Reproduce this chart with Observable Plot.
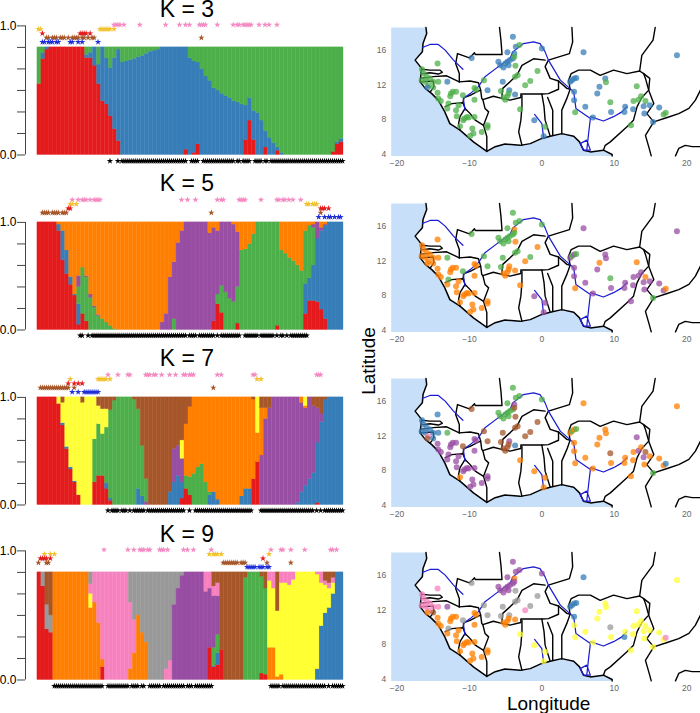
<!DOCTYPE html>
<html><head><meta charset="utf-8">
<script src="https://cdn.jsdelivr.net/npm/d3@7"></script>
<script src="https://cdn.jsdelivr.net/npm/@observablehq/plot@0.6"></script>
<style>
html,body{margin:0;padding:0;background:#fff}
#page{position:relative;width:700px;height:713px;overflow:hidden;font-family:"Liberation Sans",sans-serif}
#page>div,#page>svg{position:absolute}
.t{color:#000;font-size:23px;line-height:17px;white-space:nowrap;transform:translate(-50%,-50%)}
.lab{color:#000;font-size:19px;line-height:19px;white-space:nowrap}
</style></head><body><div id="page"></div>
<script>
const RED="#e41a1c",BLUE="#377eb8",GREEN="#4daf4a",PURPLE="#984ea3",ORANGE="#ff7f00",YELLOW="#ffff33",BROWN="#a65628",PINK="#f781bf",GRAY="#999999";
const clusterColors={r:RED,b:BLUE,g:GREEN,p:PURPLE,o:ORANGE,y:YELLOW,n:BROWN,k:PINK,a:GRAY};

// Admixture: cumulative top (percent) of each stacked layer for 77 columns
const k3Red=[66,89,98,100,100,100,100,100,100,100, 100,100,90,90,83,66,50,47,36,24, 13,0,0,0,0,0,0,0,0,0, 0,0,0,0,0,0,0,5,0,2, 10,0,0,0,0,0,0,0,0,0, 0,0,14,32,14,0,0,7,0,0, 4,0,0,0,0,0,0,0,0,0, 0,0,0,0,3,10,12];
const k3Blue=[66,95,100,100,100,100,100,100,100,100, 100,100,93,95,100,84,100,90,81,90, 98,86,87,88,89,91,92,94,96,97, 98,100,100,100,100,100,100,100,90,87, 86,80,73,69,62,60,57,55,53,50, 49,47,46,53,41,39,32,22,16,11, 7,2,0,0,0,0,0,0,0,0, 0,0,0,0,3,12,15];

const k5Red=[100,100,100,100,100,92,65,52,42,32, 5,15,8,0,0,0,0,0,0,0, 0,0,0,0,0,0,0,0,0,0, 0,0,0,0,0,0,0,0,0,0, 0,0,0,0,8,24,16,0,0,0, 6,0,0,0,0,0,0,0,0,0, 4,0,0,0,0,0,0,15,27,27, 26,19,10,0,0,0,0];
const k5Blue=[100,100,100,100,100,98,92,74,49,33, 24,15,8,0,0,0,0,0,0,0, 0,0,0,0,0,0,0,0,0,0, 0,0,0,0,0,0,0,0,0,0, 0,0,0,0,8,24,16,0,0,0, 6,0,0,0,0,0,0,0,0,0, 4,0,0,0,0,0,0,43,48,60, 85,92,97,100,100,100,100];
const k5Green=[100,100,100,100,100,98,92,74,49,33, 40,58,49,30,21,13,10,7,4,1, 0,0,0,0,0,0,0,0,0,0, 0,0,0,0,10,0,0,0,0,0, 0,0,0,0,8,33,41,35,29,26, 40,74,75,80,89,100,100,100,100,100, 100,74,71,67,64,60,55,92,97,95, 85,92,97,100,100,100,100];
const k5Purple=[100,100,100,100,100,98,92,74,49,33, 50,58,50,33,22,14,10,7,4,1, 0,0,0,0,0,0,0,0,0,0, 0,7,15,49,63,81,92,100,100,100, 100,100,100,90,95,92,100,100,100,98, 91,74,75,80,89,100,100,100,100,100, 100,74,71,67,64,60,55,92,97,98, 100,95,98,100,100,100,100];

const k7Red=[100,100,100,100,100,94,74,52,33,21, 9,0,0,0,21,27,27,15,4,0, 0,0,0,0,0,0,0,0,0,0, 0,0,0,0,0,0,6,15,9,0, 0,0,0,0,0,0,0,0,0,0, 0,0,0,0,24,40,0,0,0,0, 0,0,0,0,0,0,0,0,0,0, 2,0,0,0,0,0,0];
const k7Blue=[100,100,100,100,100,94,76,54,35,22, 9,0,0,0,21,27,27,20,6,0, 0,0,0,0,0,15,8,0,0,0, 0,0,0,12,21,27,21,15,9,0, 0,0,0,9,12,5,0,0,0,0, 0,8,15,15,24,40,0,0,0,0, 0,0,0,0,0,2,12,18,24,30, 58,77,98,100,100,100,100];
const k7Purple=[100,100,100,100,100,94,76,54,35,22, 9,0,0,0,21,27,27,20,6,0, 0,0,0,0,0,15,8,3,0,0, 0,0,0,12,52,55,43,15,9,0, 0,0,0,9,12,5,0,0,0,0, 0,8,15,15,24,40,46,80,90,100, 100,100,100,100,100,100,95,90,100,92, 90,85,98,100,100,100,100];
const k7Green=[100,100,100,100,100,94,76,54,35,22, 9,0,0,0,61,75,66,72,88,97, 100,100,100,100,98,89,55,24,0,0, 0,0,0,12,52,55,43,27,26,29, 35,38,21,12,12,5,0,0,0,0, 0,8,15,15,24,40,46,80,90,100, 100,100,100,100,100,100,95,90,100,92, 90,85,98,100,100,100,100];
const k7Orange=[100,100,100,100,100,94,76,54,35,22, 9,0,0,0,61,75,66,72,88,97, 100,100,100,100,98,89,55,24,0,0, 0,0,0,12,52,55,43,75,91,100, 100,100,100,100,100,100,100,100,100,100, 100,100,100,100,98,67,90,90,90,100, 100,100,100,100,100,100,100,92,100,92, 90,85,98,100,100,100,100];
const k7Yellow=[100,100,100,100,100,100,95,100,100,100, 100,95,100,100,100,92,89,89,88,97, 100,100,100,100,98,89,55,24,0,0, 0,0,0,12,52,55,60,75,91,100, 100,100,100,100,100,100,100,100,100,100, 100,100,100,100,98,100,90,90,90,100, 100,100,100,100,100,100,100,100,100,92, 90,85,98,100,100,100,100];

const k9Red=[100,87,47,44,0,0,0,0,0,0, 0,0,0,0,0,0,12,0,0,0, 0,0,0,0,0,0,0,0,0,0, 0,0,0,0,0,0,0,0,0,0, 0,0,0,30,12,14,28,0,0,0, 0,0,0,0,0,0,6,5,0,0, 0,0,0,0,0,0,0,0,0,0, 0,0,0,0,0,0,0];
const k9Blue=[100,87,47,44,0,0,0,0,0,0, 0,0,0,0,0,0,12,0,0,0, 0,0,0,0,0,0,0,0,0,0, 0,0,0,0,0,0,0,0,0,0, 0,0,0,30,13,25,28,0,0,0, 0,0,0,0,0,0,6,5,0,0, 0,0,0,0,0,0,0,0,0,0, 10,50,62,67,80,100,100];
const k9Green=[100,87,47,44,0,0,0,0,0,0, 0,0,0,0,0,0,12,0,0,0, 0,0,0,0,0,0,0,0,0,0, 0,0,0,0,0,0,0,0,0,0, 0,0,0,30,30,42,28,0,0,0, 0,0,95,100,100,100,96,85,0,0, 0,0,0,0,0,0,0,0,0,0, 10,50,62,67,80,100,100];
const k9Orange=[100,87,47,44,100,100,100,100,100,100, 100,100,100,67,72,53,19,0,0,0, 0,0,0,10,25,60,44,35,0,0, 0,0,0,0,0,0,0,0,0,0, 0,0,0,30,30,42,28,0,0,0, 0,0,95,100,100,100,96,85,30,30, 3,5,0,0,0,0,0,0,0,0, 10,50,62,67,80,100,100];
const k9Purple=[100,87,47,44,100,100,100,100,100,100, 100,100,100,67,72,53,19,0,0,0, 0,0,0,10,25,60,44,35,0,0, 0,0,0,0,70,85,97,100,100,100, 100,100,82,85,78,78,28,0,0,0, 0,0,95,100,100,100,96,85,30,30, 3,5,0,0,0,0,0,0,0,0, 10,50,62,67,80,100,100];
const k9Yellow=[100,87,47,44,100,100,100,100,100,100, 100,100,100,80,72,53,19,0,0,0, 0,0,0,10,25,60,44,35,0,0, 0,0,0,0,70,85,97,100,100,100, 100,100,82,85,78,78,28,0,0,0, 0,0,95,100,100,100,96,85,92,85, 64,90,90,88,93,100,100,100,100,100, 98,90,88,85,90,100,100];
const k9Pink=[100,87,47,44,100,100,100,100,100,100, 100,100,100,89,100,100,100,100,100,100, 100,100,100,72,56,60,44,35,0,0, 0,0,10,18,70,85,97,100,100,100, 100,100,100,100,87,90,28,0,0,0, 0,0,95,100,100,100,96,85,100,100, 64,100,100,100,100,100,100,100,100,100, 100,100,92,90,95,100,100];
const k9Gray=[100,100,70,60,100,100,100,100,100,100, 100,100,100,100,100,100,100,100,100,100, 100,100,100,100,100,100,100,100,100,100, 100,100,100,100,100,100,100,100,100,100, 100,100,100,100,87,90,28,0,0,0, 0,0,95,100,100,100,96,85,100,100, 64,100,100,100,100,100,100,100,100,100, 100,100,92,90,95,100,100];

// Star rows: individual positions per row
const k3Stars={
 pink:[38,39,40,41,43,51,64,71,74,76,81,82,83,84,90,98,100,101,103,104,105,106,107,111,114,116,120],
 yellow:[0,1,31,32,33,34,35,36,38],
 red:[2,21,22,23,24,26],
 brown:[4,5,7,8,9,11,12,13,15,17,18,19,20,22,23,25,27,28,82],
 blue:[2,3,5,6,7,9,10,16,17,20,22,30],
 black:[36,40,42,43,44,45,46,47,48,49,50,51,52,53,54,55,56,57,58,59,60,61,62,63,64,65,66,67,68,69,70,71,72,73,74,77,78,79,80,83,84,85,86,87,88,89,90,91,92,93,94,95,96,97,98,100,101,103,104,105,106,109,110,111,112,114,115,117,118,119,120,121,122,123,124,125,126,127,128,129,130,131,132,133,134,135,136,137,138,139,140,141,142,143,144,145,146,147,148,149,150,151,152,153]};
const k5Stars={
 pink:[17,20,22,23,24,26,28,29,30,31,72,75,79,90,92,93,101,102,103,104,112,120,121,123,124,126,128,132],
 yellow:[16,17,19,135,136,138,139,140],
 red:[15,16,142,143,144,146],
 brown:[2,3,4,5,7,8,9,10,12,13,14,87,142],
 blue:[141,144,146,147,149,151,152],
 black:[21,22,25,27,28,29,30,31,32,33,34,35,36,37,38,39,40,41,42,43,44,45,46,47,48,49,50,51,52,53,54,55,56,57,58,59,60,61,62,63,64,65,66,67,68,69,70,71,72,73,74,76,77,78,79,81,82,83,84,85,86,87,88,90,92,93,94,95,96,97,98,99,100,101,104,105,106,107,108,109,110,112,113,114,115,116,117,118,120,122,123,125,127,128,129,130,131,132,133,134,135]};
const k7Stars={
 pink:[35,40,45,46,54,55,56,58,59,62,66,69,73,74,76,77,78,90,92,108,109,140,141,142],
 yellow:[16,30,31,32,33,34,36,110,112],
 red:[15,18,20,22],
 brown:[1,2,3,4,5,6,7,8,9,10,11,12,13,14,15,18,88],
 blue:[17,20,23,24,25,26,27,28,29,30],
 black:[35,37,38,39,40,42,43,44,46,48,49,50,51,52,53,55,56,57,58,59,60,61,62,63,64,65,66,67,68,69,70,71,72,73,76,79,80,81,82,83,84,85,86,87,88,89,90,91,92,93,94,95,96,97,98,99,100,101,102,103,104,105,106,107,112,113,114,115,116,117,118,119,120,121,122,123,124,125,126,127,128,129,130,131,132,133,134,135,136,137,138,140,142,144,145,146,147,148,149,150,151,152,153]};
const k9Stars={
 pink:[33,45,48,51,52,53,55,56,61,62,63,65,73,75,78,87,117,122,123,127,134,147,148,150],
 yellow:[3,6,8,86,88,89,90,92,116],
 red:[1,2,3,4,6,113],
 brown:[0,4,5,93,94,95,96,97,98,99,100,102,103,104,115,127],
 blue:[105,106,107,108,109,111,112,113,115,116],
 black:[8,9,10,11,12,13,14,15,16,17,18,19,20,21,22,23,24,25,26,27,28,29,30,31,32,35,36,37,38,39,40,41,42,43,44,45,47,48,49,50,52,53,56,57,58,59,60,61,63,64,65,66,67,68,69,70,71,72,73,75,76,77,79,80,81,82,83,84,85,86,87,117,118,119,120,121,123,124,125,126,127,128,129,130,131,132,133,134,135,136,137,138,139,140,141,142,143,144,146,148,149,150,151,152,153]};

const page=document.getElementById("page");
const PXPER=1.076, Y_TOP=125, Y_BOT=-10;

function barPanel(y0px, layers, stars, rowLevels, starBelow, ticks, topTick){
  const rows=[];
  for(let i=0;i<77;i++){
    let prev=0;
    for(const [tops,fill] of layers){
      const t=tops?tops[i]:100;
      if(t>prev){rows.push({x1:2*i,x2:2*i+2,y1:prev,y2:t,fill});prev=t;}
    }
  }
  const starMark=(xs,level,fill)=>Plot.dot(xs,{x:d=>d+0.5,y:()=>level,symbol:"star",r:2,fill,stroke:"none"});
  const h=(Y_TOP-Y_BOT)*PXPER;
  const svg=Plot.plot({
    width:350,height:h,marginLeft:25,marginRight:7,marginTop:0,marginBottom:0,
    x:{domain:[-6,154],axis:null},
    y:{domain:[Y_BOT,Y_TOP]},
    color:{type:"identity"},
    style:{background:"transparent",fontFamily:"'Liberation Sans',sans-serif",overflow:"visible"},
    marks:[
      Plot.rect(rows,{x1:"x1",x2:"x2",y1:"y1",y2:"y2",fill:"fill",stroke:"fill",strokeWidth:0.35}),
      Plot.ruleX([-6],{y1:0,y2:topTick,stroke:"#444"}),
      Plot.axisY(ticks,{anchor:"left",tickSize:8,tickPadding:1,label:null,stroke:"#444",color:"#000",fontSize:12,
        tickFormat:d=>d===0?"0.0":d===topTick?"1.0":""}),
      starMark(stars.pink,rowLevels.pink,"#f48cc4"),
      starMark(stars.yellow,rowLevels.yellow,"#f2c230"),
      starMark(stars.red,rowLevels.red,RED),
      starMark(stars.brown,rowLevels.brown,BROWN),
      starMark(stars.blue,rowLevels.blue,"#1f2fd8"),
      starMark(stars.black,starBelow,"#000")
    ]
  });
  svg.style.left="0px";
  svg.style.top=(y0px-Y_TOP*PXPER)+"px";
  page.appendChild(svg);
}

const ticks7=[0,20,40,60,80,100,120], ticks6=[0,20,40,60,80,100];
const rowsA={pink:121,yellow:117,red:113,brown:109,blue:105};
barPanel(154,[[k3Red,RED],[k3Blue,BLUE],[null,GREEN]],k3Stars,rowsA,-5.6,ticks7,120);
barPanel(329.3,[[k5Red,RED],[k5Blue,BLUE],[k5Green,GREEN],[k5Purple,PURPLE],[null,ORANGE]],k5Stars,rowsA,-5.2,ticks6,100);
barPanel(504.3,[[k7Red,RED],[k7Blue,BLUE],[k7Purple,PURPLE],[k7Green,GREEN],[k7Orange,ORANGE],[k7Yellow,YELLOW],[null,BROWN]],k7Stars,rowsA,-5.2,ticks6,100);
barPanel(679,[[k9Red,RED],[k9Blue,BLUE],[k9Green,GREEN],[k9Orange,ORANGE],[k9Purple,PURPLE],[k9Yellow,YELLOW],[k9Pink,PINK],[k9Gray,GRAY],[null,BROWN]],k9Stars,rowsA,-5.6,ticks7,120);

// Map geometry (longitude, latitude)
const coast=[[-16,18.6],[-15.9,17.9],[-16.4,16.8],[-16.5,15.8],[-17.5,14.85],[-16.6,13.9],[-16.8,12.35],[-16.1,11.6],[-15.2,11],[-14.3,10.25],[-13.4,8.9],[-12.7,7.55],[-11.3,6.8],[-9.45,5.45],[-7.6,4.35],[-6.45,4.9],[-5.1,5.2],[-3,5.05],[-1.6,5.25],[0,5.85],[1.15,6.1],[2.75,6.4],[4.4,6.1],[5.2,5.45],[5.75,4.5],[6.7,4.3],[8.5,4.5],[9.7,4],[9.7,3.84]];
const oceanCorners=[[-20.8,3.84],[-20.8,18.6]];
const borders=[
 [[-5.85,18.6],[-5.65,17.15],[-5.5,15.5],[-9.2,15.5],[-9.3,15.7],[-10,15.1],[-11.65,15.6],[-11.9,14.45],[-11.4,13.3],[-11.4,12.35]],
 [[-16.6,13.8],[-15.45,13.7],[-14.05,13.7],[-13.75,13.45],[-14.3,13.25],[-15.45,13.4],[-16.45,13.3]],
 [[-16.75,12.75],[-15,12.95],[-13.15,13.05],[-11.4,12.35]],
 [[-16.8,12.35],[-15,12.45],[-14.9,11.8],[-15.4,11.2]],
 [[-11.4,12.35],[-9.9,12.45],[-8.75,12.25],[-8.45,11.4],[-8.3,10.45],[-8.15,10.3],[-6.7,10.7],[-5.55,10.45],[-5.4,11.6],[-4.4,12.35],[-3.45,13.1],[-2.75,14.25],[-1.15,15],[0.45,14.85]],
 [[4.15,18.6],[4.25,16.95],[3.8,15.6],[0.9,14.85],[0.45,14.1],[1.15,12.75],[2.3,12.45],[2.3,11.5],[0.9,11],[0,10.95],[-2.9,10.95],[-2.9,10.55],[-4.4,10.25],[-5.55,10.45]],
 [[-2.75,10.8],[-2.75,9.5],[-2.9,7.95],[-3.2,6.6],[-2.75,5.05]],
 [[0,10.95],[0.3,9.5],[0.45,7.95],[1.15,6.1]],
 [[0.8,10.55],[1.5,9.1],[1.5,6.2]],
 [[2.3,12.45],[3.45,11.6],[3.9,11.5],[3.45,10.45],[2.75,9.1],[2.75,6.35]],
 [[3.9,11.5],[3.7,12.55],[4.05,13.3],[5.05,13.7],[6.7,13.7],[8.05,13.1],[9.9,13.7],[11.75,13.3],[13.5,13.6],[14.05,13.3],[14.3,12.75],[14.75,11.4],[13.8,10.55],[13.15,9.5],[12.65,7.95],[11.75,7.2],[9.45,5.45],[8.75,5.05],[8.5,4.5]],
 [[15.65,18.6],[15.35,17.15],[13.8,15.4],[13.5,13.6]],
 [[14.05,13.3],[14.9,12.75],[14.75,11.4],[15.45,9.85],[14.5,8.7],[15.45,7.75],[14.3,6.2],[14.75,4.9],[15.1,3.84]],
 [[15.45,7.75],[17.3,8.25],[18.9,8.7],[20.3,9.3],[21.2,10.25],[21.9,11.4]],
 [[18.45,3.84],[18.9,4.7],[19.8,5.05],[20.75,4.9],[21.9,4.9]],
 [[-13.35,9.5],[-12.45,9.85],[-10.9,9.95],[-10.6,9.3],[-11.3,8.35],[-11.5,7.55],[-11.3,6.8]],
 [[-10.6,9.3],[-9.9,8.7],[-9.2,7.95],[-8.05,7.35]],
 [[-8.15,10.3],[-7.85,9.3],[-7.35,8.9],[-8.05,7.35],[-7.6,6.05],[-7.6,4.35]],
 [[-10.9,9.95],[-10.75,10.55],[-9.9,10.8],[-9,11.2],[-8.45,11.4]]
];
const rivers=[
 [[-16.5,16.3],[-15.45,16.65],[-14.3,16.65],[-13.35,16],[-12.2,14.85],[-10.9,13.8]],
 [[-10.6,9.1],[-10.85,10.45],[-9.9,11],[-8.75,11.8],[-7.85,12.95],[-6,14.1],[-4.4,15.05],[-4,15.8],[-2.55,16.75],[-1.15,16.95],[-0.25,16.75],[0.45,15.8],[0.9,14.85],[2.55,12.55],[4.4,11.2],[4.7,9.3],[6.7,8.15],[6.45,6.4],[6.2,4.5]],
 [[6.7,8.35],[8.5,7.85],[9.9,8.35],[11.05,8.9],[11.75,9.5]],
 [[6.2,5.65],[5.3,5.25],[5.75,4.5],[6.7,4.5],[6.2,5.65]],
 [[-1,8.6],[0,7.55],[0.25,5.85]]
];
// Sampling locations
const siteLon=[-4,-3.6,-3.1,-4.75,-6,-5.75,-5.05,-4.75,-4.4,-4, -4.6,-5.3,-3.8,-3.8,-3.65,0,-9.7,-14.4,-8,-5.4, -7.5,-9.3,-5.65,-4.5,-3.7,-3.7,-3.35,-2.3,-1.6,-0.6, -5.3,-4.75,-5.05,-4.6,-3,-1.05,0.45,0.25,5.75,18.65, 3.9,4.15,4.45,4.75,4.45,4.45,4.6,6,7.05,7.65, 7.95,8.75,8.85,9.45,9.55,11.4,11.5,12.3,13.1,12.65, 12.6,13.35,13.7,14.3,14.05,14.15,14.9,15.35,16.2,16.8, 17.1,-16.55,-16.35,-16.6,-15.9,-15.45,-16.1,-15.65,-15,-14.3, -13.05,-15.8,-15,-14.4,-14.3,-13.95,-12.65,-12.3,-11.85,-12.55, -12.9,-13.05,-10.9,-11.5,-11.85,-11.75,-11.3,-10.7,-10.35,-10.1, -10.85,-9.3,-9.3,-9.6,-9.45,-9.9,-8.3,-7.5,-7.5,-9.1];
const siteLat=[17.55,16.4,16.6,15.75,14.65,14.25,14.45,14.65,14.85,15.05, 14.25,14,15.6,15.25,14.2,16.2,15.1,14.45,12.55,12.35, 11.4,11.65,11.3,11.4,10.9,12.95,13.1,11.95,12.45,13.6, 10.55,10.7,10.3,11,9.2,7.95,7.2,6.1,15.75,15.4, 12.35,12.55,12.75,12.8,11.2,10.25,8.85,9.5,8.25,11, 11.8,12.75,12.3,10,8.9,8.9,9.5,7.35,11.85,10.15, 9.2,10.3,10.7,10.15,9.55,8.7,9.65,7.75,9.4,8.6, 8.8,13.8,13.3,12.55,12.95,12.75,12.35,11.95,12.35,12.35, 12.35,11.7,11.7,11.1,10.45,10.15,10.7,11.2,11.2,11, 9.85,9.3,10.8,9.65,9.1,8.4,7.25,8.15,8.3,8.25, 7.95,10.3,8.3,7,6.4,6.15,6.6,7.35,7.1,11.45];
const k3Sites="bbgbbbbbbb"+"bbbggbbggb"+"bggbbggggg"+"gggggbgbbb"+"bbbbbbgbbb"+"bbggbbbggg"+"bgggbbbbbg"+"gggggggggg"+"bbgggggggg"+"gggggggggg"+"gggggggggg";
const k5Sites="gggggggggg"+"ggogoggogg"+"gogooggogo"+"oooooppppp"+"pgpgppoppp"+"oppgppppop"+"pppopppgpp"+"oooooooooo"+"gooooooooo"+"gogooooooo"+"oooooooooo";
const k7Sites="gggggggggg"+"ggpnngnbnn"+"npnpbnnnnn"+"nnnnoooooo"+"ogogoooooo"+"ooonoooopo"+"oponpoogoo"+"bbbbbbbkbb"+"gnbppppppp"+"ppnpppoppp"+"pppppppppp";
const k9Sites="pppppppppp"+"ppopapakaa"+"aoaaoaakaa"+"ooooyyyyby"+"bbbbbyyyyy"+"yyyaybyyyy"+"yyyyyyyyyy"+"kkkkkkkkkk"+"ponooooooo"+"aoaooooooo"+"oooooooooo";
const latTicks=[4,8,12,16], lonTicks=[-20,-10,0,10,20];

function mapPanel(topPx, sites){
  const pts=siteLon.map((lon,i)=>({lon,lat:siteLat[i],fill:clusterColors[sites[i]]}));
  const lineOf=(seg,stroke,strokeWidth)=>Plot.line(seg,{x:d=>d[0],y:d=>d[1],stroke,strokeWidth,strokeLinejoin:"round"});
  const svg=Plot.plot({
    width:340,height:150.4,marginLeft:30.7,marginRight:0,marginTop:0,marginBottom:22,
    x:{domain:[-20.8,21.9]},y:{domain:[3.84,18.6]},
    color:{type:"identity"},
    style:{background:"transparent",fontFamily:"'Liberation Sans',sans-serif",overflow:"visible"},
    marks:[
      Plot.line([...coast,...oceanCorners],{x:d=>d[0],y:d=>d[1],fill:"#c8dffa",stroke:"none"}),
      ...borders.map(s=>lineOf(s,"#000",1.4)),
      lineOf(coast,"#000",1.5),
      ...rivers.map(s=>lineOf(s,"#1a1ad2",1.2)),
      Plot.dot(pts,{x:"lon",y:"lat",fill:"fill",r:3,fillOpacity:0.75,stroke:"none"}),
      Plot.axisX(lonTicks,{anchor:"bottom",tickSize:0,tickPadding:4,fontSize:8.5,color:"#666",label:null}),
      Plot.axisY(latTicks,{anchor:"left",tickSize:0,tickPadding:5,fontSize:8.5,color:"#666",label:null})
    ]
  });
  svg.style.left="360px";
  svg.style.top=topPx+"px";
  page.appendChild(svg);
}
mapPanel(27.3,k3Sites);
mapPanel(202.7,k5Sites);
mapPanel(378.3,k7Sites);
mapPanel(551.7,k9Sites);

// Titles and axis captions
const panelTitles=["K = 3","K = 5","K = 7","K = 9"], titleY=[9,183,358,533.5];
panelTitles.forEach((s,i)=>{
  const d=document.createElement("div");d.className="t";d.textContent=s;
  d.style.left="187px";d.style.top=titleY[i]+"px";page.appendChild(d);
});
const lon=document.createElement("div");lon.className="lab";lon.textContent="Longitude";
lon.style.left="548.7px";lon.style.top="703px";lon.style.transform="translate(-50%,-50%)";page.appendChild(lon);
const lat=document.createElement("div");lat.className="lab";lat.textContent="Latitude";
lat.style.left="367.5px";lat.style.top="361px";lat.style.transform="translate(-50%,-50%) rotate(-90deg)";page.appendChild(lat);
</script></body></html>
